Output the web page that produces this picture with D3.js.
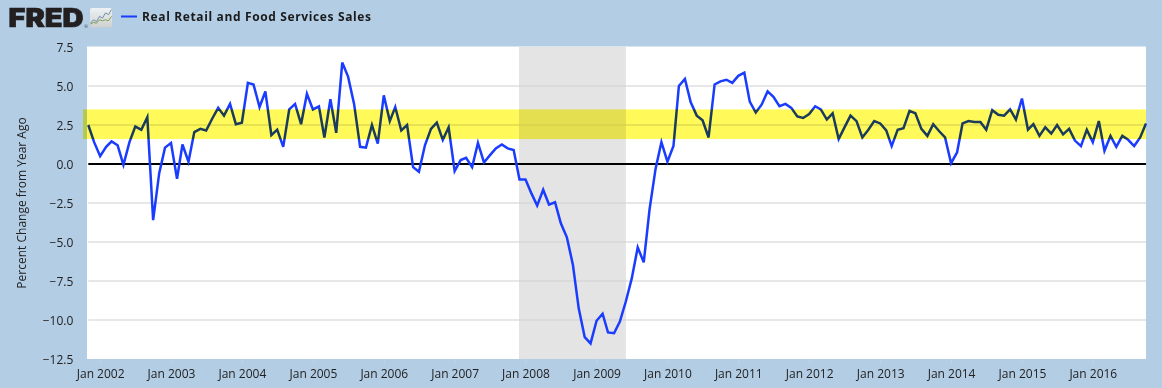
<!DOCTYPE html>
<html><head><meta charset="utf-8">
<script src="https://cdn.jsdelivr.net/npm/d3@7"></script>
<style>
html,body{margin:0;padding:0;background:#b3cde5;overflow:hidden}
svg{display:block}
text{font-family:"Open Sans",sans-serif}
</style></head><body><div id="c"></div>
<script>
const seriesName = "Real Retail and Food Services Sales";
const yTitle = "Percent Change from Year Ago";
const startMonth = "2001-11";
const values = [
2.5,1.4,0.5,1.1,1.45,1.2,-0.05,1.4,2.4,2.2,3.0,-3.6,-0.6,1.05,1.35,-0.95,1.25,0.15,2.05,2.25,
2.15,2.9,3.6,3.1,3.85,2.55,2.65,5.2,5.1,3.65,4.65,1.85,2.2,1.1,3.5,3.85,2.55,4.5,3.5,3.7,
1.7,4.15,2.0,6.5,5.6,3.85,1.1,1.05,2.5,1.3,4.4,2.75,3.65,2.15,2.5,-0.2,-0.5,1.2,2.25,2.65,
1.55,2.35,-0.45,0.25,0.4,-0.2,1.35,0.1,0.55,1.0,1.25,1.0,0.9,-1.0,-1.0,-1.9,-2.67,-1.65,-2.6,-2.45,
-3.8,-4.7,-6.45,-9.25,-11.1,-11.5,-10.05,-9.6,-10.8,-10.85,-10.1,-8.8,-7.35,-5.35,-6.3,-2.9,-0.3,1.4,0.15,1.15,
5.0,5.45,3.95,3.1,2.8,1.7,5.1,5.3,5.4,5.2,5.65,5.85,4.0,3.3,3.8,4.65,4.3,3.7,3.85,3.6,
3.05,2.95,3.2,3.7,3.5,2.85,3.25,1.6,2.35,3.1,2.75,1.7,2.2,2.75,2.6,2.15,1.15,2.2,2.3,3.4,
3.25,2.25,1.8,2.55,2.1,1.7,0.05,0.75,2.6,2.75,2.7,2.7,2.2,3.45,3.15,3.1,3.5,2.85,4.2,2.2,
2.55,1.8,2.35,1.95,2.5,1.9,2.25,1.5,1.15,2.2,1.4,2.75,0.85,1.8,1.1,1.8,1.55,1.15,1.7,2.6];
const yTicks = [7.5,5,2.5,0,-2.5,-5,-7.5,-10,-12.5];
const tickYears = [2002,2003,2004,2005,2006,2007,2008,2009,2010,2011,2012,2013,2014,2015,2016];
const recession = ["2007-12","2009-06"];
const band = [3.5,1.6];
const iconLineA = [1,3,2,5,4,7,6,9];
const iconLineB = [0.5,1.5,1,3,2.5,3,2.5,5];

const W=1162,H=388,L=88.3,R=1146,T=47,B=359;
const pm=d3.timeParse("%Y-%m");
const dates=values.map((_,i)=>d3.timeMonth.offset(pm(startMonth),i));
const x=d3.scaleTime().domain([dates[0],dates[dates.length-1]]).range([L,R]);
const y=d3.scaleLinear().domain([-12.5,7.5]).range([B,T]);
const svg=d3.select("#c").append("svg").attr("width",W).attr("height",H).style("isolation","isolate");
svg.append("rect").attr("width",W).attr("height",H).attr("fill","#b3cde5");
svg.append("rect").attr("x",L-1.3).attr("y",T-0.5).attr("width",R-L+1.3).attr("height",B-T+0.5).attr("fill","#fff");
svg.append("rect").attr("x",x(pm(recession[0]))-0.5).attr("y",T)
  .attr("width",x(pm(recession[1]))-x(pm(recession[0]))+0.5).attr("height",B-T).attr("fill","#e4e4e4");

// grid
svg.append("g").selectAll("line").data(yTicks.filter(d=>d!==0&&d!==7.5&&d!==-12.5)).join("line")
  .attr("x1",L).attr("x2",R).attr("y1",d=>y(d)).attr("y2",d=>y(d))
  .attr("stroke","#d0d0d0").attr("stroke-width",1.2);
svg.append("line").attr("x1",L).attr("x2",R).attr("y1",y(0)).attr("y2",y(0)).attr("stroke","#000").attr("stroke-width",2);

// axes
const gy=svg.append("g").attr("transform",`translate(${L},1)`)
  .call(d3.axisLeft(y).tickValues(yTicks).tickSize(0).tickPadding(15).tickFormat(d3.format(".1f")));
gy.select(".domain").remove();
gy.selectAll("text").attr("font-size",12).attr("fill","#222").style("font-family",'"Open Sans",sans-serif');
const gx=svg.append("g").attr("transform",`translate(0,${B})`)
  .call(d3.axisBottom(x).tickValues(tickYears.map(t=>new Date(t,0,1))).tickSize(5).tickPadding(5).tickFormat(d3.timeFormat("%b %Y")));
gx.select(".domain").remove();
gx.selectAll("line").attr("stroke","#c0d3e6");
gx.selectAll("text").attr("font-size",12).attr("fill","#222").style("font-family",'"Open Sans",sans-serif');

svg.append("text").attr("transform","translate(26,203) rotate(-90)").attr("text-anchor","middle")
  .attr("font-size",12).attr("fill","#222").text(yTitle);

// series
const line=d3.line().x((d,i)=>x(dates[i])).y(d=>y(d));
svg.append("path").datum(values).attr("d",line).attr("fill","none").attr("stroke","#1a3cff")
  .attr("stroke-width",2.5).attr("stroke-linejoin","miter");

// highlighted band
svg.append("rect").attr("x",83).attr("y",y(band[0])).attr("width",R-83).attr("height",y(band[1])-y(band[0]))
  .attr("fill","#fffa5a").style("mix-blend-mode","multiply");

// legend
svg.append("line").attr("x1",121).attr("x2",137).attr("y1",16.5).attr("y2",16.5).attr("stroke","#1a3cff").attr("stroke-width",2);
svg.append("text").attr("x",142).attr("y",21).attr("font-size",12).attr("font-weight",700)
  .attr("fill","#1a1a1a").attr("textLength",229).text(seriesName);

// logo
svg.append("text").attr("x",8.5).attr("y",27.3).attr("font-size",25.5).attr("font-weight",900)
  .style("font-family","Inter,sans-serif").attr("fill","#231f20").attr("stroke","#231f20").attr("stroke-width",0.7)
  .attr("textLength",75).attr("lengthAdjust","spacingAndGlyphs").text("FRED");
svg.append("text").attr("x",84.5).attr("y",27.5).attr("font-size",4).attr("fill","#231f20").text("®");
const defs=svg.append("defs");
const gr=defs.append("linearGradient").attr("id","ic").attr("x1",0).attr("y1",0).attr("x2",0).attr("y2",1);
gr.append("stop").attr("offset",0).attr("stop-color","#eef2f5");
gr.append("stop").attr("offset",1).attr("stop-color","#cfcfcf");
svg.append("rect").attr("x",90).attr("y",8).attr("width",22).attr("height",19.5).attr("rx",2).attr("fill","url(#ic)");
const ix=d3.scaleLinear().domain([0,7]).range([90.5,111.5]);
const iy=d3.scaleLinear().domain([0,9]).range([25,9.5]);
const il=d3.line().x((d,i)=>ix(i)).y(d=>iy(d));
svg.append("path").attr("d",il(iconLineA)).attr("fill","none").attr("stroke","#6f8fa8").attr("stroke-width",1);
svg.append("path").attr("d",il(iconLineB)).attr("fill","none").attr("stroke","#7fa050").attr("stroke-width",1);
</script></body></html>
